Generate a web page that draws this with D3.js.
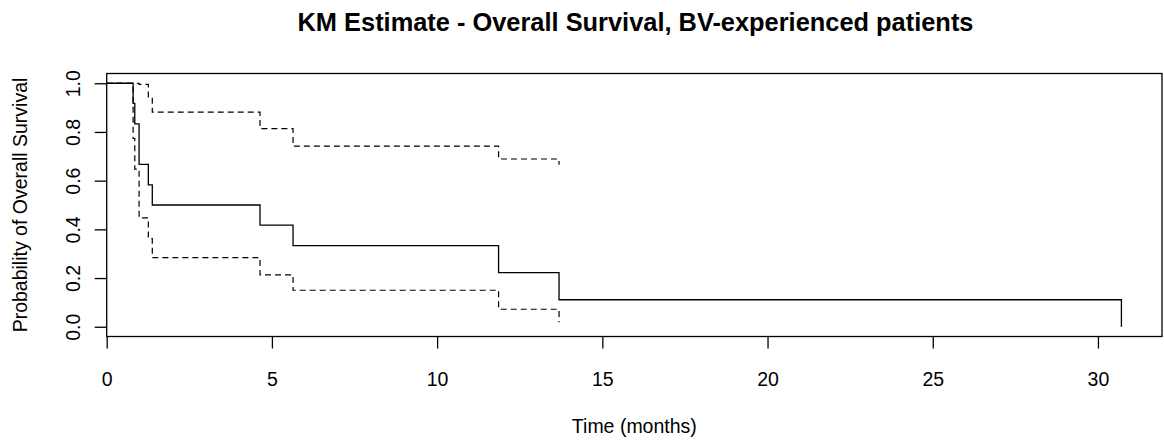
<!DOCTYPE html>
<html>
<head>
<meta charset="utf-8">
<script src="https://cdn.jsdelivr.net/npm/d3@7"></script>
<style>
  html, body { margin: 0; padding: 0; background: #fff; }
  svg { display: block; font-family: "Liberation Sans", Arial, sans-serif; }
</style>
</head>
<body>
<svg id="chart" width="1164" height="444"></svg>
<script>
// Kaplan-Meier estimate (event times in months) with 95% confidence limits
const eventTimes = [0, 0.80, 0.85, 0.98, 1.26, 1.38, 4.64, 5.64, 11.86, 13.69, 30.71];
const survival   = [1, 0.917, 0.833, 0.667, 0.583, 0.500, 0.417, 0.333, 0.222, 0.111, 0];
const bandTimes  = [0, 0.80, 0.85, 0.98, 1.26, 1.38, 4.64, 5.64, 11.86, 13.69];
const upperCI    = [1, 1, 1, 0.995, 0.941, 0.881, 0.814, 0.742, 0.689, 0.665];
const lowerCI    = [1, 0.773, 0.647, 0.447, 0.362, 0.284, 0.213, 0.150, 0.072, 0.019];
const xTicks = [0, 5, 10, 15, 20, 25, 30];
const yTicks = [0, 0.2, 0.4, 0.6, 0.8, 1.0];

const titleText = "KM Estimate - Overall Survival, BV-experienced patients";
const xLabel = "Time (months)";
const yLabel = "Probability of Overall Survival";

const svg = d3.select("#chart");
const box = { left: 106.7, right: 1162, top: 73.5, bottom: 336.5 };

const maxT = d3.max(eventTimes);
const x = d3.scaleLinear().domain([0, maxT * 1.04]).range([box.left, box.right]);
const y = d3.scaleLinear().domain([-0.04, 1.04]).range([box.bottom, box.top]);

const axisFont = 19.5;

// x axis
const gx = svg.append("g")
  .attr("transform", `translate(0,${box.bottom})`)
  .call(d3.axisBottom(x).tickValues(xTicks).tickSize(12).tickSizeOuter(0).tickFormat(d3.format("d")));
gx.select(".domain").remove();
gx.selectAll(".tick line").attr("stroke", "#000").attr("stroke-width", 1.3);
gx.selectAll(".tick text")
  .attr("y", 49).attr("dy", 0)
  .attr("fill", "#000")
  .style("font-size", axisFont + "px")
  .style("font-family", "'Liberation Sans', Arial, sans-serif");

// y axis (labels parallel to the axis)
const gy = svg.append("g")
  .attr("transform", `translate(${box.left},0)`)
  .call(d3.axisLeft(y).tickValues(yTicks).tickSize(12).tickSizeOuter(0).tickFormat(d3.format(".1f")));
gy.select(".domain").remove();
gy.selectAll(".tick line").attr("stroke", "#000").attr("stroke-width", 1.3);
gy.selectAll(".tick text")
  .attr("x", 0).attr("y", 0).attr("dy", 0)
  .attr("text-anchor", "middle")
  .attr("transform", "translate(-27,0) rotate(-90)")
  .attr("fill", "#000")
  .style("font-size", axisFont + "px")
  .style("font-family", "'Liberation Sans', Arial, sans-serif");

// plot frame
svg.append("rect")
  .attr("x", box.left).attr("y", box.top)
  .attr("width", box.right - box.left).attr("height", box.bottom - box.top)
  .attr("fill", "none").attr("stroke", "#000").attr("stroke-width", 1.3);

// step curves
const step = d3.line()
  .x(d => x(d[0])).y(d => y(d[1]))
  .curve(d3.curveStepAfter);

const kmPoints = eventTimes.map((t, i) => [t, survival[i]]);
const upperPoints = bandTimes.map((t, i) => [t, upperCI[i]]);
const lowerPoints = bandTimes.map((t, i) => [t, lowerCI[i]]);

svg.append("path").attr("d", step(kmPoints))
  .attr("fill", "none").attr("stroke", "#000").attr("stroke-width", 1.3);

[upperPoints, lowerPoints].forEach(pts => {
  svg.append("path").attr("d", step(pts))
    .attr("fill", "none").attr("stroke", "#000").attr("stroke-width", 1.2)
    .attr("stroke-dasharray", "6,4");
});

// titles
svg.append("text")
  .attr("x", 635.5).attr("y", 31)
  .attr("text-anchor", "middle")
  .style("font-size", "25.4px").style("font-weight", "bold")
  .text(titleText);

svg.append("text")
  .attr("x", (box.left + box.right) / 2).attr("y", 433)
  .attr("text-anchor", "middle")
  .style("font-size", axisFont + "px")
  .text(xLabel);

svg.append("text")
  .attr("transform", `translate(26.5,${(box.top + box.bottom) / 2}) rotate(-90)`)
  .attr("text-anchor", "middle")
  .style("font-size", axisFont + "px")
  .text(yLabel);
</script>
</body>
</html>
